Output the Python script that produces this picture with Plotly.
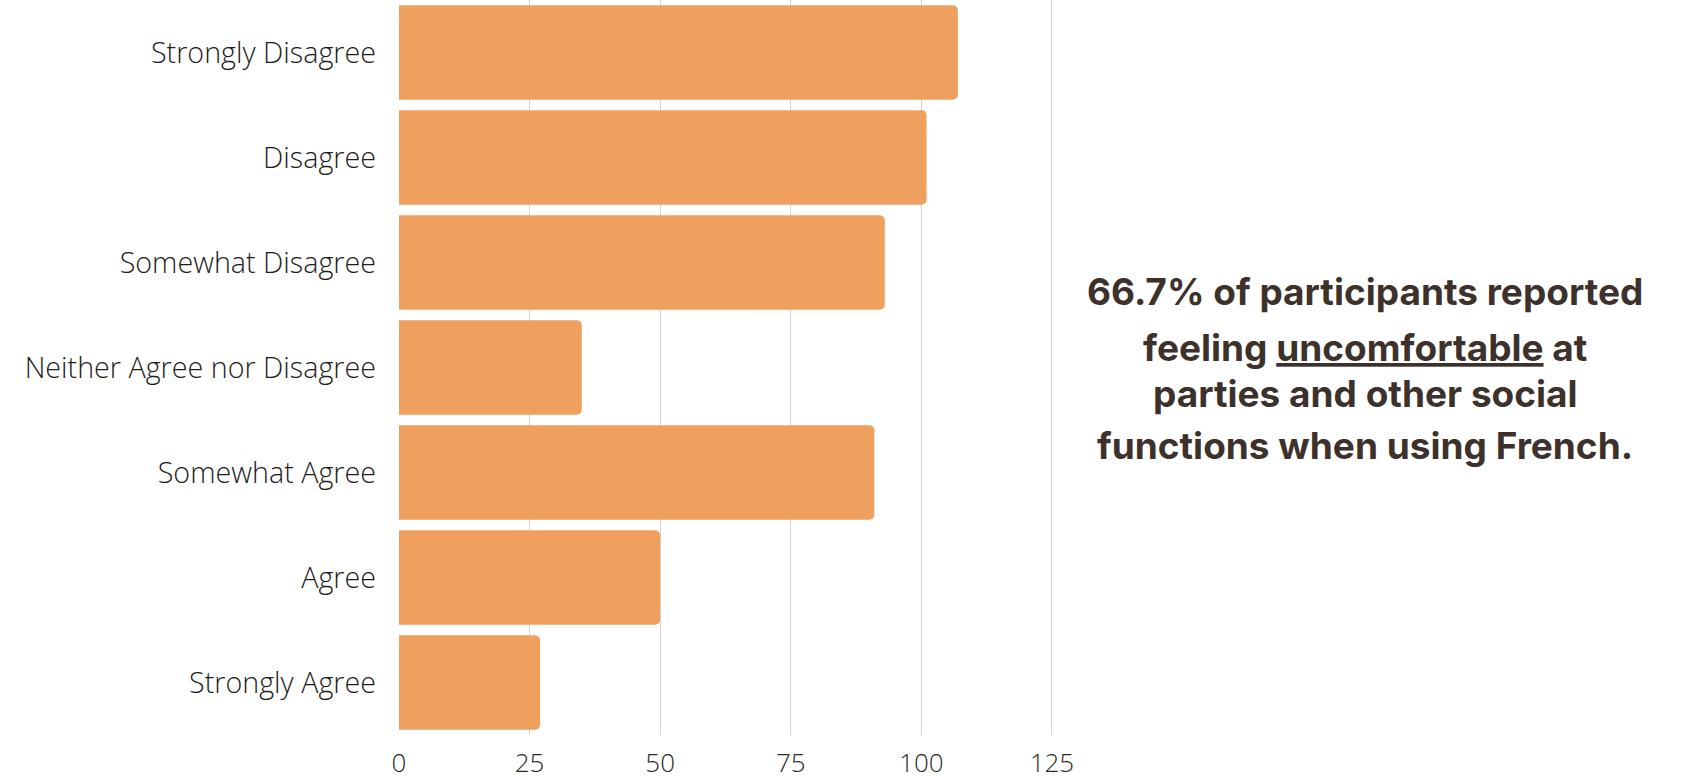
import plotly.graph_objects as go

categories = ["Strongly Disagree", "Disagree", "Somewhat Disagree",
              "Neither Agree nor Disagree", "Somewhat Agree", "Agree", "Strongly Agree"]
values = [107, 101, 93, 35, 91, 50, 27]
x_ticks = [0, 25, 50, 75, 100, 125]
note_lines = ["66.7% of participants reported",
              "feeling <u>uncomfortable</u> at",
              "parties and other social",
              "functions when using French."]

fig = go.Figure(go.Bar(
    x=values, y=categories, orientation="h",
    marker=dict(color="#F0A05E", cornerradius=5, line=dict(width=0)),
))

fig.update_layout(
    width=1690, height=780,
    margin=dict(l=399, r=636, t=0, b=45),
    paper_bgcolor="white", plot_bgcolor="white",
    bargap=0.1, showlegend=False,
    font=dict(family="Open Sans", color="#222222"),
)
fig.update_xaxes(range=[0, 125.4], tickvals=x_ticks, showgrid=True, gridcolor="#d4d4d4",
                 gridwidth=1, zeroline=False, showline=False,
                 tickfont=dict(size=26, color="#2a2a2a", family="Open Sans", weight=300),
                 ticklabelstandoff=10)
fig.update_yaxes(categoryorder="array", categoryarray=categories, autorange="reversed",
                 showgrid=False, zeroline=False, showline=False,
                 tickfont=dict(size=28.7, color="#1e1e1e", family="Open Sans", weight=300),
                 ticklabelstandoff=22)

ys = [291, 347, 394, 445]
for line, yp in zip(note_lines, ys):
    fig.add_annotation(text="<b>" + line + "</b>", xref="paper", yref="paper",
                       x=(1365 - 399) / (1054 - 399), y=1 - yp / 735,
                       xanchor="center", yanchor="middle", showarrow=False,
                       font=dict(family="Inter", size=37, color="#3d312c"))

fig.write_html("out.html", config={"displayModeBar": False},
               post_script="document.body.style.margin='0';")
